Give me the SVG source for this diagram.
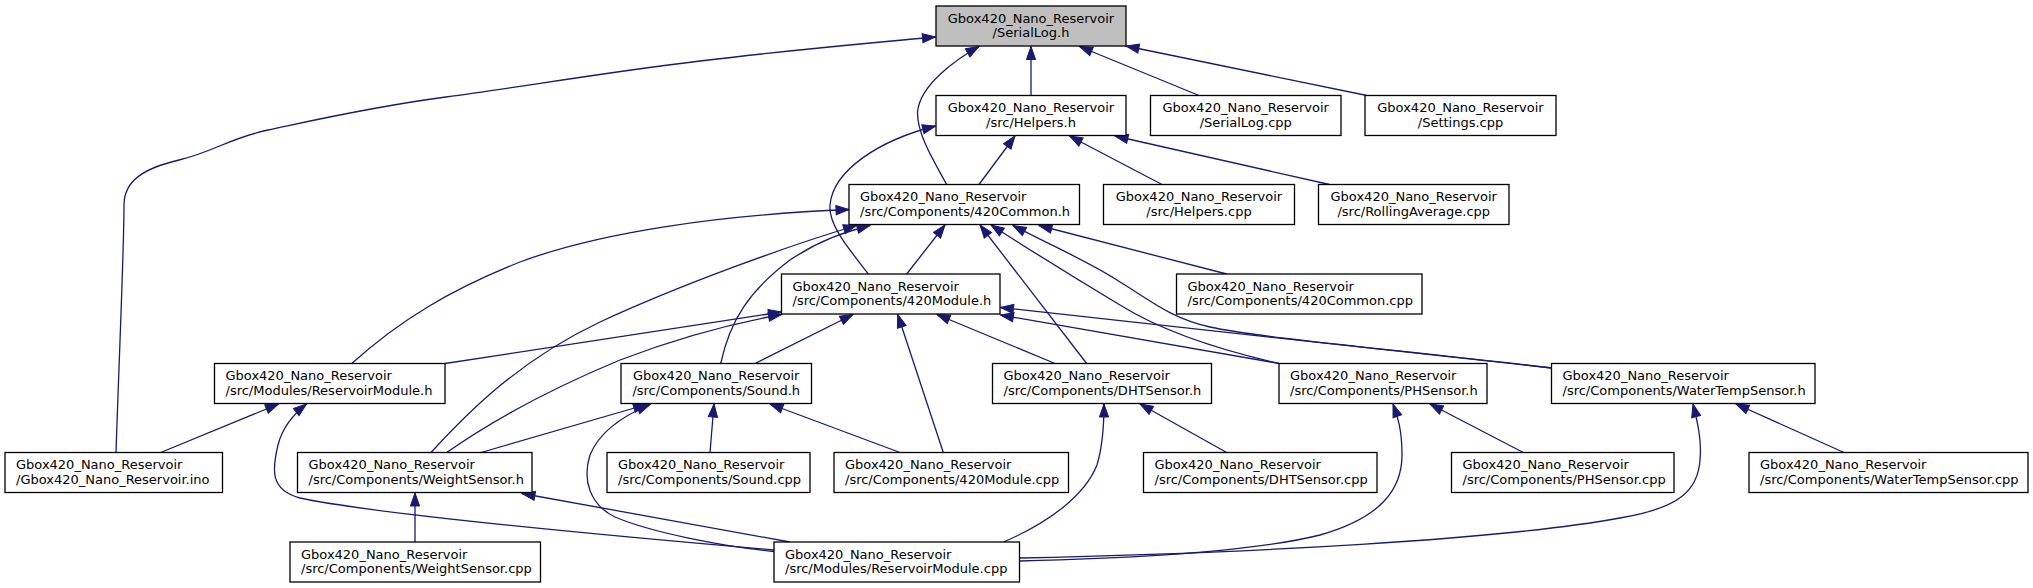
<svg xmlns="http://www.w3.org/2000/svg" width="2033" height="588" viewBox="0 0 2033 588">
<style>
.n rect{fill:#ffffff;stroke:#000000;stroke-width:1.3}
.n text{font-family:"DejaVu Sans","Liberation Sans",sans-serif;font-size:13px;fill:#000000}
.c{text-anchor:middle}
#edges path{fill:none;stroke:#191970;stroke-width:1.3;marker-end:url(#a)}
</style>
<defs>
<marker id="a" markerUnits="userSpaceOnUse" markerWidth="13" markerHeight="10" refX="13" refY="5" orient="auto" viewBox="0 0 13 10" overflow="visible">
<path d="M0,0.4 L13,5 L0,9.6z" fill="#191970" stroke="#191970" stroke-width="1"/>
</marker>
</defs>
<rect width="2033" height="588" fill="#ffffff"/>
<g id="edges">
<path d="M116,452.5 C119,360 124,250 124,205 C124,180 145,168 179,160 S230,138 268,130 S370,107 446,97 S600,73 700,61 S860,44 935.5,37"/>
<path d="M1031,95.5 L1031,46.5"/>
<path d="M946.7,184.5 C935,163 917,135 917.5,112 C920,85 955,60 979,46.5"/>
<path d="M1199,95.5 L1079.5,46.5"/>
<path d="M1367,95.5 L1126,46"/>
<path d="M979,184.5 L1015,136"/>
<path d="M868.3,274 C850,250 828,225 830,205 C833,170 880,140 935.5,126"/>
<path d="M1162,184.5 L1069.5,136"/>
<path d="M1329.5,184.5 L1115,136"/>
<path d="M351.7,363.5 C400,320 450,290 520,262 C600,232 720,215 849,209.5"/>
<path d="M431,452.5 C470,410 520,360 600,322 C680,285 790,245 856.5,225.5"/>
<path d="M720.7,363.5 C730,320 750,290 790,260 C820,240 845,232 870,225.5"/>
<path d="M906.7,274 L945,225"/>
<path d="M1086.7,363.5 L980,225"/>
<path d="M1279,363.5 C1220,350 1160,330 1120,305 C1070,275 1030,250 991,225"/>
<path d="M1551.7,368 C1400,350 1260,338 1210,327 C1170,318 1150,300 1120,282 C1090,262 1050,245 1013,225.5"/>
<path d="M1226.7,274 L1039,225.5"/>
<path d="M445,363.5 L781.5,312"/>
<path d="M446.7,452.5 C500,415 560,385 620,360 C680,337 740,322 781.5,314.5"/>
<path d="M755,363.5 L853,314.5"/>
<path d="M943.3,452.5 L897.7,314.5"/>
<path d="M1055,363.5 L937,314.5"/>
<path d="M1279,363.5 L1000.5,315"/>
<path d="M1551.7,368 L1000.5,307.5"/>
<path d="M160.7,452.5 L278.5,404"/>
<path d="M774,550 C600,535 380,515 300,498 C270,490 272,470 278,445 C283,425 295,413 306.5,404"/>
<path d="M774,551.5 C720,546 650,532 615,517 C590,505 582,480 590,455 C600,430 625,415 650,404.5"/>
<path d="M481,452.5 L646.5,404.5"/>
<path d="M710,452.5 L714,404"/>
<path d="M900,452.5 L770,404"/>
<path d="M415,542 L415,493"/>
<path d="M790,542 L522,493.5"/>
<path d="M1226.7,452.5 L1140,404"/>
<path d="M1003.6,542 C1050,522 1085,495 1097,465 C1103,445 1104,425 1104,404"/>
<path d="M1523.3,452.5 L1430,404"/>
<path d="M1019.5,561 C1150,558 1260,550 1320,535 C1380,518 1402,490 1402,455 C1402,430 1398,418 1393,404"/>
<path d="M1844,452.5 L1736,404"/>
<path d="M1019.5,558 C1250,553 1500,540 1620,518 C1680,508 1698,490 1700,460 C1702,440 1697,420 1693,404"/>
</g>
<g id="n1" class="n"><rect x="936" y="6" width="190" height="40" style="fill:#bfbfbf"/><text class="c"><tspan x="1031" y="22.5">Gbox420_Nano_Reservoir</tspan><tspan x="1031" y="37">/SerialLog.h</tspan></text></g>
<g id="n2" class="n"><rect x="936" y="95.5" width="190" height="40"/><text class="c"><tspan x="1031" y="112">Gbox420_Nano_Reservoir</tspan><tspan x="1031" y="126.5">/src/Helpers.h</tspan></text></g>
<g id="n3" class="n"><rect x="1150.5" y="95.5" width="190.5" height="40"/><text class="c"><tspan x="1245.75" y="112">Gbox420_Nano_Reservoir</tspan><tspan x="1245.75" y="126.5">/SerialLog.cpp</tspan></text></g>
<g id="n4" class="n"><rect x="1365" y="95.5" width="191" height="40"/><text class="c"><tspan x="1460.5" y="112">Gbox420_Nano_Reservoir</tspan><tspan x="1460.5" y="126.5">/Settings.cpp</tspan></text></g>
<g id="n5" class="n"><rect x="849" y="184.5" width="230.5" height="40"/><text><tspan x="860" y="201">Gbox420_Nano_Reservoir</tspan><tspan x="860" y="215.5">/src/Components/420Common.h</tspan></text></g>
<g id="n6" class="n"><rect x="1103.5" y="184.5" width="191" height="40"/><text class="c"><tspan x="1199" y="201">Gbox420_Nano_Reservoir</tspan><tspan x="1199" y="215.5">/src/Helpers.cpp</tspan></text></g>
<g id="n7" class="n"><rect x="1318.5" y="184.5" width="190.5" height="40"/><text class="c"><tspan x="1413.75" y="201">Gbox420_Nano_Reservoir</tspan><tspan x="1413.75" y="215.5">/src/RollingAverage.cpp</tspan></text></g>
<g id="n8" class="n"><rect x="781.5" y="274" width="218.5" height="40"/><text><tspan x="792.5" y="290.5">Gbox420_Nano_Reservoir</tspan><tspan x="792.5" y="305">/src/Components/420Module.h</tspan></text></g>
<g id="n9" class="n"><rect x="1176.5" y="274" width="245.5" height="40"/><text><tspan x="1187.5" y="290.5">Gbox420_Nano_Reservoir</tspan><tspan x="1187.5" y="305">/src/Components/420Common.cpp</tspan></text></g>
<g id="n10" class="n"><rect x="214.5" y="363.5" width="230.5" height="40"/><text><tspan x="225.5" y="380">Gbox420_Nano_Reservoir</tspan><tspan x="225.5" y="394.5">/src/Modules/ReservoirModule.h</tspan></text></g>
<g id="n11" class="n"><rect x="621" y="363.5" width="190.5" height="40"/><text class="c"><tspan x="716.25" y="380">Gbox420_Nano_Reservoir</tspan><tspan x="716.25" y="394.5">/src/Components/Sound.h</tspan></text></g>
<g id="n12" class="n"><rect x="992.5" y="363.5" width="219" height="40"/><text><tspan x="1003.5" y="380">Gbox420_Nano_Reservoir</tspan><tspan x="1003.5" y="394.5">/src/Components/DHTSensor.h</tspan></text></g>
<g id="n13" class="n"><rect x="1279" y="363.5" width="208" height="40"/><text><tspan x="1290" y="380">Gbox420_Nano_Reservoir</tspan><tspan x="1290" y="394.5">/src/Components/PHSensor.h</tspan></text></g>
<g id="n14" class="n"><rect x="1551.5" y="363.5" width="263.5" height="40"/><text><tspan x="1562.5" y="380">Gbox420_Nano_Reservoir</tspan><tspan x="1562.5" y="394.5">/src/Components/WaterTempSensor.h</tspan></text></g>
<g id="n15" class="n"><rect x="5" y="452.5" width="217.5" height="40"/><text><tspan x="16" y="469">Gbox420_Nano_Reservoir</tspan><tspan x="16" y="483.5">/Gbox420_Nano_Reservoir.ino</tspan></text></g>
<g id="n16" class="n"><rect x="297.5" y="452.5" width="234.5" height="40"/><text><tspan x="308.5" y="469">Gbox420_Nano_Reservoir</tspan><tspan x="308.5" y="483.5">/src/Components/WeightSensor.h</tspan></text></g>
<g id="n17" class="n"><rect x="607" y="452.5" width="203" height="40"/><text><tspan x="618" y="469">Gbox420_Nano_Reservoir</tspan><tspan x="618" y="483.5">/src/Components/Sound.cpp</tspan></text></g>
<g id="n18" class="n"><rect x="834" y="452.5" width="234.5" height="40"/><text><tspan x="845" y="469">Gbox420_Nano_Reservoir</tspan><tspan x="845" y="483.5">/src/Components/420Module.cpp</tspan></text></g>
<g id="n19" class="n"><rect x="1143.5" y="452.5" width="233.5" height="40"/><text><tspan x="1154.5" y="469">Gbox420_Nano_Reservoir</tspan><tspan x="1154.5" y="483.5">/src/Components/DHTSensor.cpp</tspan></text></g>
<g id="n20" class="n"><rect x="1451.5" y="452.5" width="222.5" height="40"/><text><tspan x="1462.5" y="469">Gbox420_Nano_Reservoir</tspan><tspan x="1462.5" y="483.5">/src/Components/PHSensor.cpp</tspan></text></g>
<g id="n21" class="n"><rect x="1749" y="452.5" width="279" height="40"/><text><tspan x="1760" y="469">Gbox420_Nano_Reservoir</tspan><tspan x="1760" y="483.5">/src/Components/WaterTempSensor.cpp</tspan></text></g>
<g id="n22" class="n"><rect x="290" y="542" width="250.5" height="40"/><text><tspan x="301" y="558.5">Gbox420_Nano_Reservoir</tspan><tspan x="301" y="573">/src/Components/WeightSensor.cpp</tspan></text></g>
<g id="n23" class="n"><rect x="774" y="542" width="245.5" height="40"/><text><tspan x="785" y="558.5">Gbox420_Nano_Reservoir</tspan><tspan x="785" y="573">/src/Modules/ReservoirModule.cpp</tspan></text></g>
</svg>
